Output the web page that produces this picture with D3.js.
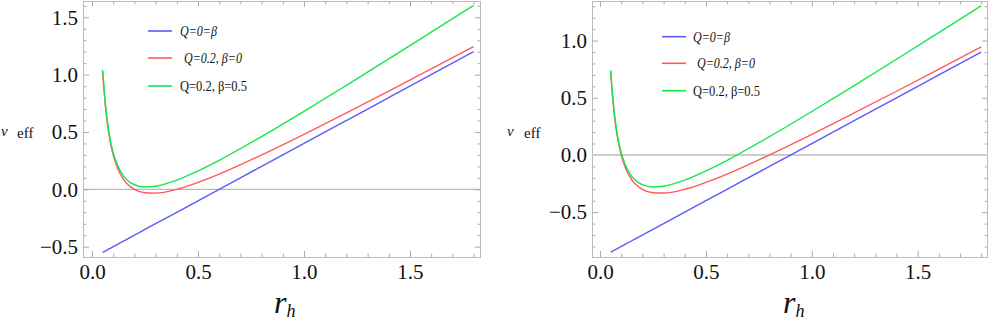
<!DOCTYPE html>
<html><head><meta charset="utf-8"><script src="https://cdn.jsdelivr.net/npm/d3@7"></script></head>
<body style="margin:0">
<div id="chart"></div>
<script>
var SERIF = "'Times New Roman', 'Liberation Serif', Tinos, serif";

// horizon radius samples
var rh = [0.05, 0.06, 0.07, 0.08, 0.09, 0.10, 0.12, 0.15, 0.20, 0.25, 0.30, 0.40, 0.50, 0.60, 0.80, 1.00, 1.20, 1.40, 1.60, 1.80];

// left panel values
var leftBlue  = [-0.55, -0.54, -0.53, -0.52, -0.51, -0.50, -0.48, -0.45, -0.40, -0.35, -0.30, -0.20, -0.10, 0.00, 0.20, 0.40, 0.60, 0.80, 1.00, 1.20];
var leftRed   = [1.03, 0.79, 0.61, 0.48, 0.38, 0.30, 0.187, 0.083, 0.00, -0.03, -0.033, 0.00, 0.06, 0.133, 0.30, 0.48, 0.667, 0.857, 1.05, 1.244];
var leftGreen = [1.04, 0.805, 0.627, 0.496, 0.397, 0.32, 0.211, 0.113, 0.04, 0.02, 0.027, 0.08, 0.16, 0.253, 0.46, 0.68, 0.907, 1.137, 1.37, 1.604];

// right panel values
var rightBlue  = [-0.85, -0.84, -0.83, -0.82, -0.81, -0.80, -0.78, -0.75, -0.70, -0.65, -0.60, -0.50, -0.40, -0.30, -0.10, 0.10, 0.30, 0.50, 0.70, 0.90];
var rightRed   = [0.73, 0.49, 0.31, 0.18, 0.08, 0.00, -0.113, -0.217, -0.30, -0.33, -0.333, -0.30, -0.24, -0.167, 0.00, 0.18, 0.367, 0.557, 0.75, 0.944];
var rightGreen = [0.74, 0.505, 0.327, 0.196, 0.097, 0.02, -0.089, -0.187, -0.26, -0.28, -0.273, -0.22, -0.14, -0.047, 0.16, 0.38, 0.607, 0.837, 1.07, 1.304];

var legendLabels = ["Q=0=β", "Q=0.2, β=0", "Q=0.2, β=0.5"];
var colors = ["#5a5aff", "#ff5a5a", "#14e650"];

var svg = d3.select("#chart").append("svg").attr("width", 989).attr("height", 321)
    .style("font-family", SERIF);

var panels = [
  { xd: [-0.0425, 1.835], xr: [83, 481], yd: [-0.59, 1.642], yr: [257, 1],
    series: [leftBlue, leftRed, leftGreen], yTicks: [-0.5, 0, 0.5, 1, 1.5],
    zeroW: 1, zeroC: "#aaaaaa",
    legX: [148, 172], legY: [31, 58, 86], legTx: [180, 184, 180],
    nuX: 1, effX: 17, labY: 138, rX: 274 },
  { xd: [-0.038, 1.832], xr: [592, 988], yd: [-0.892, 1.346], yr: [257, 1],
    series: [rightBlue, rightRed, rightGreen], yTicks: [-0.5, 0, 0.5, 1],
    zeroW: 2, zeroC: "#cccccc",
    legX: [662, 686], legY: [36.7, 63.3, 90.7], legTx: [693, 697, 693],
    nuX: 507, effX: 524, labY: 138, rX: 783 }
];

var legWidths = [37, 58, 67];
var fmt = d3.format(".1f");

panels.forEach(function (p) {
  var x = d3.scaleLinear().domain(p.xd).range(p.xr);
  var y = d3.scaleLinear().domain(p.yd).range(p.yr);
  var g = svg.append("g");

  var xMinor = d3.range(0, 1.81, 0.1).filter(function (v) { return Math.abs(v * 2 - Math.round(v * 2)) > 1e-6; });
  var xMajor = [0, 0.5, 1, 1.5];
  var yMinor = d3.range(Math.ceil(p.yd[0] * 10), Math.floor(p.yd[1] * 10) + 1).map(function (v) { return v / 10; })
    .filter(function (v) { return Math.abs(v * 2 - Math.round(v * 2)) > 1e-6; });

  function tickAxis(axisFn, scale, vals, size, tr) {
    var a = g.append("g").attr("transform", tr)
      .call(axisFn(scale).tickValues(vals).tickSize(size).tickFormat(""));
    a.select(".domain").remove();
    a.selectAll("line").attr("stroke", "#aaaaaa");
    return a;
  }

  // minor ticks on all sides, pointing in
  tickAxis(d3.axisBottom, x, xMinor, -3.5, "translate(0," + p.yr[0] + ")");
  tickAxis(d3.axisTop, x, xMinor, -3.5, "translate(0," + p.yr[1] + ")");
  tickAxis(d3.axisLeft, y, yMinor, -3.5, "translate(" + p.xr[0] + ",0)");
  tickAxis(d3.axisRight, y, yMinor, -3.5, "translate(" + p.xr[1] + ",0)");
  tickAxis(d3.axisTop, x, xMajor, -6, "translate(0," + p.yr[1] + ")");
  tickAxis(d3.axisRight, y, p.yTicks, -6, "translate(" + p.xr[1] + ",0)");

  // labelled axes
  var xa = g.append("g").attr("transform", "translate(0," + p.yr[0] + ")")
    .call(d3.axisBottom(x).tickValues(xMajor).tickSize(-6).tickPadding(7).tickFormat(fmt));
  var ya = g.append("g").attr("transform", "translate(" + p.xr[0] + ",0)")
    .call(d3.axisLeft(y).tickValues(p.yTicks).tickSize(-6).tickPadding(5).tickFormat(fmt));
  [xa, ya].forEach(function (a) {
    a.attr("font-family", null).attr("font-size", null);
    a.select(".domain").remove();
    a.selectAll("line").attr("stroke", "#aaaaaa");
    a.selectAll("text").attr("fill", "#111")
      .style("font-family", SERIF).style("font-size", "21px");
  });

  // frame
  g.append("rect")
    .attr("x", p.xr[0] + 0.5).attr("y", p.yr[1] + 0.5)
    .attr("width", p.xr[1] - p.xr[0] - 1).attr("height", p.yr[0] - p.yr[1])
    .attr("fill", "none").attr("stroke", "#bbbbbb").attr("stroke-width", 1);

  // zero line
  g.append("line")
    .attr("x1", p.xr[0]).attr("x2", p.xr[1])
    .attr("y1", y(0)).attr("y2", y(0))
    .attr("stroke", p.zeroC).attr("stroke-width", p.zeroW);

  var line = d3.line()
    .x(function (d) { return x(d[0]); })
    .y(function (d) { return y(d[1]); })
    .curve(d3.curveMonotoneX);

  p.series.forEach(function (s, i) {
    g.append("path")
      .datum(rh.map(function (r, k) { return [r, s[k]]; }))
      .attr("d", line)
      .attr("fill", "none")
      .attr("stroke", colors[i])
      .attr("stroke-width", 1.4);
  });

  // legend
  legendLabels.forEach(function (lab, i) {
    g.append("line")
      .attr("x1", p.legX[0]).attr("x2", p.legX[1])
      .attr("y1", p.legY[i]).attr("y2", p.legY[i])
      .attr("stroke", colors[i]).attr("stroke-width", 1.6);
    g.append("text")
      .attr("x", p.legTx[i]).attr("y", p.legY[i] + 5)
      .attr("textLength", legWidths[i]).attr("lengthAdjust", "spacingAndGlyphs")
      .attr("fill", "#111")
      .style("font-family", SERIF).style("font-size", "15px")
      .style("font-style", i < 2 ? "italic" : "normal")
      .text(lab);
  });

  // y label
  g.append("text").attr("x", p.nuX).attr("y", p.labY - 2).attr("fill", "#111")
    .style("font-family", SERIF).style("font-size", "15px").style("font-style", "italic").text("ν");
  g.append("text").attr("x", p.effX).attr("y", p.labY).attr("fill", "#111")
    .style("font-family", SERIF).style("font-size", "15px").text("eff");

  // x label
  var xl = g.append("text").attr("x", p.rX).attr("y", 313).attr("fill", "#111")
    .style("font-family", SERIF).style("font-size", "32px").style("font-style", "italic");
  xl.append("tspan").text("r");
  xl.append("tspan").attr("dy", 4).style("font-size", "18px").text("h");
});
</script>
</body>
</html>
